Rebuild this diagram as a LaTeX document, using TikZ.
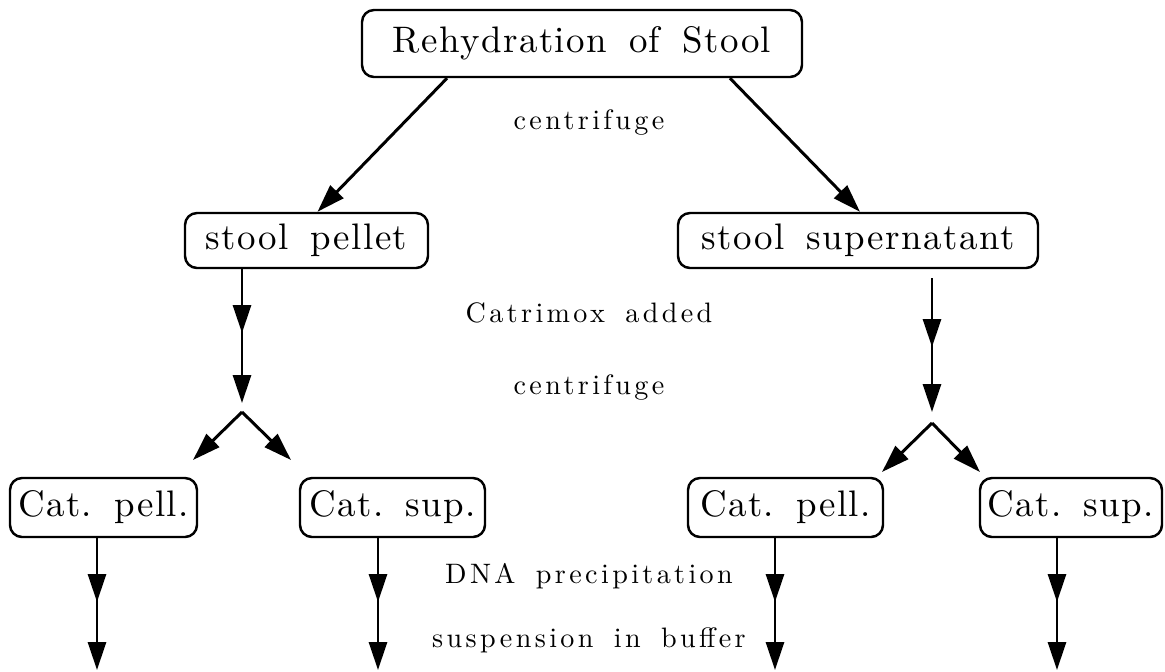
\documentclass[tikz,border=0pt]{standalone}
\usepackage{fontspec}
\newfontfamily\stagefont{lmroman10-regular.otf}[LetterSpace=4, WordSpace=1.6]
\newfontfamily\notefont{lmroman10-regular.otf}[LetterSpace=12, WordSpace=1.6]
\usetikzlibrary{arrows.meta,calc}
\frenchspacing

\begin{document}
\begin{tikzpicture}[flow/.style={-{Triangle[length=2.8mm, width=1.8mm]}, line width=0.85pt}, stage/.style={rectangle, rounded corners=1.2mm, draw, line width=0.7pt, inner sep=0pt, font=\stagefont\fontsize{10.5}{12}\selectfont}, note/.style={font=\notefont\fontsize{8}{9.5}\selectfont}]
    \useasboundingbox (0,0) rectangle (11.65,-6.72);

        % Stool.
        \node[stage, minimum width=4.40cm, minimum height=0.67cm] (stool) at (5.82,-0.435) {Rehydration of Stool};
        \node[note] (spin-1) at (5.89,-1.22) {centrifuge};

        % First split.
        \node[stage, minimum width=2.43cm, minimum height=0.55cm] (pellet) at (3.065,-2.405) {stool pellet};
        \node[stage, minimum width=3.60cm, minimum height=0.55cm] (super) at (8.58,-2.405) {stool supernatant};
        \draw[flow] ($(stool.south)+(-1.35,0)$) -- ($(pellet.north)+(0.11,0)$);
        \draw[flow] ($(stool.south)+(1.48,0)$) -- ($(super.north)+(0.02,0)$);

        % Catrimox.
        \node[note] (cat) at (5.89,-3.13) {Catrimox added};
        \node[note] (spin-2) at (5.89,-3.87) {centrifuge};

        \coordinate (P-mid) at (2.42,-3.33);
        \coordinate (P-end) at (2.42,-4.03);
        \coordinate (P-top) at (2.42,-4.12);
        \coordinate (S-beg) at (9.32,-2.78);
        \coordinate (S-mid) at (9.32,-3.47);
        \coordinate (S-end) at (9.32,-4.12);
        \coordinate (S-top) at (9.32,-4.23);

        \draw[flow] (pellet.south -| P-end) -- (P-end);
        \draw[flow] (pellet.south -| P-mid) -- (P-mid);
        \draw[flow] (S-beg) -- (S-end);
        \draw[flow] (S-beg) -- (S-mid);

        % Second split.
        \node[stage, minimum width=1.87cm, minimum height=0.59cm] (P-pell) at (1.035,-5.075) {Cat. pell.};
        \node[stage, minimum width=1.85cm, minimum height=0.59cm] (P-sup) at (3.925,-5.075) {Cat. sup.};
        \node[stage, minimum width=1.95cm, minimum height=0.59cm] (S-pell) at (7.855,-5.075) {Cat. pell.};
        \node[stage, minimum width=1.82cm, minimum height=0.59cm] (S-sup) at (10.71,-5.075) {Cat. sup.};

        \draw[flow] (P-top) -- ++(-0.49,-0.48);
        \draw[flow] (P-top) -- ++(0.49,-0.48);
        \draw[flow] (S-top) -- ++(-0.50,-0.49);
        \draw[flow] (S-top) -- ++(0.48,-0.49);

        % Precipitation.
        \node[note] (dna) at (5.89,-5.76) {DNA precipitation};
        \node[note] (buf) at (5.89,-6.40) {suspension in buffer};

        \foreach \cell/\x in {P-pell/0.97, P-sup/3.78, S-pell/7.75, S-sup/10.57} {
            \coordinate (\cell-mid) at (\x,-6.02);
            \coordinate (\cell-end) at (\x,-6.70);
            \draw[flow] (\cell.south -| \cell-end) -- (\cell-end);
            \draw[flow] (\cell.south -| \cell-mid) -- (\cell-mid);
        }

\end{tikzpicture}
\end{document}
